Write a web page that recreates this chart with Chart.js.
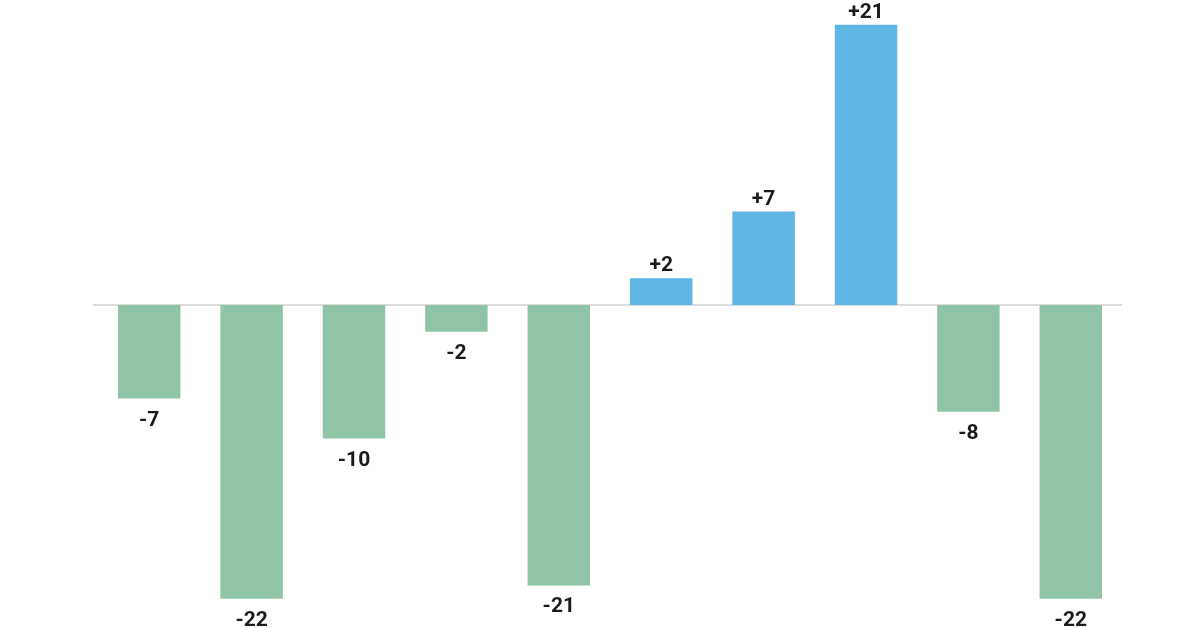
<!DOCTYPE html>
<html>
<head>
<meta charset="utf-8">
<script src="https://cdn.jsdelivr.net/npm/chart.js@4"></script>
<style>
  html, body { margin: 0; padding: 0; background: #fff; }
  #wrap { width: 1200px; height: 628px; }
</style>
</head>
<body>
<div id="wrap"><canvas id="myChart"></canvas></div>
<script>
const categories = ['1', '2', '3', '4', '5', '6', '7', '8', '9', '10'];
const values = [-7, -22, -10, -2, -21, 2, 7, 21, -8, -22];
const labels = values.map(v => (v > 0 ? '+' + v : String(v)));

const POS_COLOR = '#5fb5e4';
const NEG_COLOR = '#8fc4a7';

// ligne du zéro + étiquettes des valeurs
const zeroAndLabels = {
    id: 'zeroAndLabels',
    beforeDatasetsDraw(chart) {
        const ctx = chart.ctx;
        const y0 = chart.scales.y.getPixelForValue(0);
        ctx.save();
        ctx.strokeStyle = '#dcdcdc';
        ctx.lineWidth = 2;
        ctx.beginPath();
        ctx.moveTo(chart.chartArea.left - 5, y0);
        ctx.lineTo(chart.chartArea.right, y0);
        ctx.stroke();
        ctx.restore();
    },
    afterDatasetsDraw(chart) {
        const ctx = chart.ctx;
        const meta = chart.getDatasetMeta(0);
        ctx.save();
        ctx.font = 'bold 21px Roboto';
        ctx.fillStyle = '#1a1a1a';
        ctx.textAlign = 'center';
        ctx.textBaseline = 'alphabetic';
        meta.data.forEach((bar, i) => {
            const v = values[i];
            const y = v >= 0 ? bar.y - 7 : bar.y + 27;
            ctx.fillText(labels[i], bar.x, y);
        });
        ctx.restore();
    }
};

const ctx = document.getElementById('myChart').getContext('2d');
const myChart = new Chart(ctx, {
    type: 'bar',
    data: {
        labels: categories,
        datasets: [{
            data: values,
            backgroundColor: values.map(v => (v >= 0 ? POS_COLOR : NEG_COLOR)),
            borderWidth: 0,
            categoryPercentage: 1,
            barPercentage: 0.61
        }]
    },
    options: {
        responsive: true,
        maintainAspectRatio: false,
        animation: false,
        layout: {
            padding: { left: 98, right: 78, top: 0, bottom: 0 }
        },
        plugins: {
            legend: { display: false },
            tooltip: { enabled: false }
        },
        scales: {
            x: { display: false },
            y: { display: false, min: -24.19, max: 22.85 }
        }
    },
    plugins: [zeroAndLabels]
});
</script>
</body>
</html>
